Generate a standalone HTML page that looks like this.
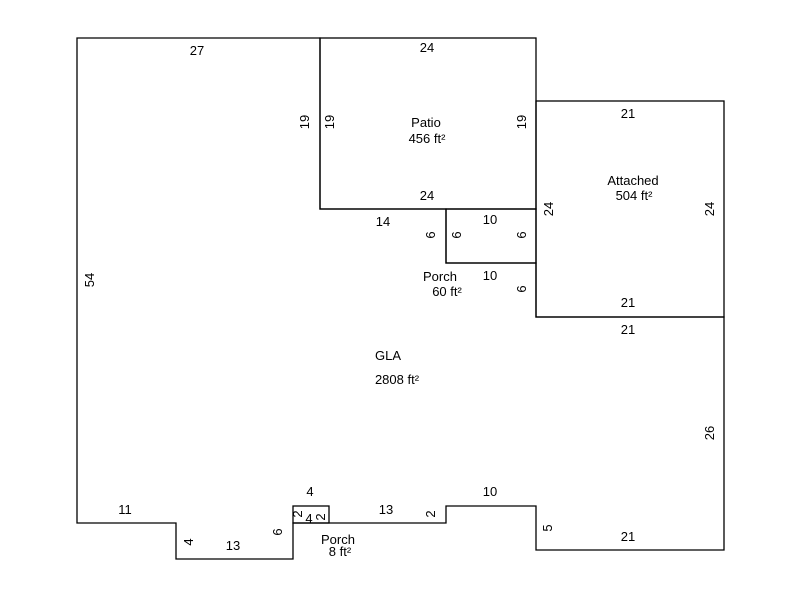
<!DOCTYPE html>
<html><head><style>body{margin:0;background:#fff}svg text{font-family:"Liberation Sans",sans-serif;font-size:13px;fill:#000}</style></head>
<body>
<svg width="800" height="600" xmlns="http://www.w3.org/2000/svg">
<g fill="none" stroke="#000" stroke-width="1.3">
<polygon points="77,38 320,38 320,209 446,209 446,263 536,263 536,317 724,317 724,550 536,550 536,506 446,506 446,523 293,523 293,559 176,559 176,523 77,523"/>
<rect x="320" y="38" width="216" height="171"/>
<rect x="536" y="101" width="188" height="216"/>
<rect x="446" y="209" width="90" height="54"/>
<rect x="293" y="506" width="36" height="17"/>
</g>
<g text-anchor="middle">
<text x="197" y="55">27</text>
<text x="427" y="52">24</text>
<text x="426" y="127">Patio</text>
<text x="427" y="143">456 ft²</text>
<text x="427" y="200">24</text>
<text x="628" y="118">21</text>
<text x="633" y="185">Attached</text>
<text x="634" y="200">504 ft²</text>
<text x="628" y="307">21</text>
<text x="628" y="334">21</text>
<text x="383" y="226">14</text>
<text x="490" y="224">10</text>
<text x="490" y="280">10</text>
<text x="440" y="281">Porch</text>
<text x="447" y="296">60 ft²</text>
<text x="388" y="360">GLA</text>
<text x="397" y="384">2808 ft²</text>
<text x="310" y="496">4</text>
<text x="490" y="496">10</text>
<text x="125" y="514">11</text>
<text x="386" y="514">13</text>
<text x="309" y="523">4</text>
<text x="233" y="550">13</text>
<text x="338" y="544">Porch</text>
<text x="340" y="556">8 ft²</text>
<text x="628" y="541">21</text>
</g>
<g text-anchor="middle">
<text transform="translate(94,280) rotate(-90)">54</text>
<text transform="translate(309,122) rotate(-90)">19</text>
<text transform="translate(334,122) rotate(-90)">19</text>
<text transform="translate(526,122) rotate(-90)">19</text>
<text transform="translate(553,209) rotate(-90)">24</text>
<text transform="translate(714,209) rotate(-90)">24</text>
<text transform="translate(435,235) rotate(-90)">6</text>
<text transform="translate(461,235) rotate(-90)">6</text>
<text transform="translate(526,235) rotate(-90)">6</text>
<text transform="translate(526,289) rotate(-90)">6</text>
<text transform="translate(714,433) rotate(-90)">26</text>
<text transform="translate(302,514) rotate(-90)">2</text>
<text transform="translate(325,517) rotate(-90)">2</text>
<text transform="translate(435,514) rotate(-90)">2</text>
<text transform="translate(282,532) rotate(-90)">6</text>
<text transform="translate(193,542) rotate(-90)">4</text>
<text transform="translate(552,528) rotate(-90)">5</text>
</g>
</svg>
</body></html>
